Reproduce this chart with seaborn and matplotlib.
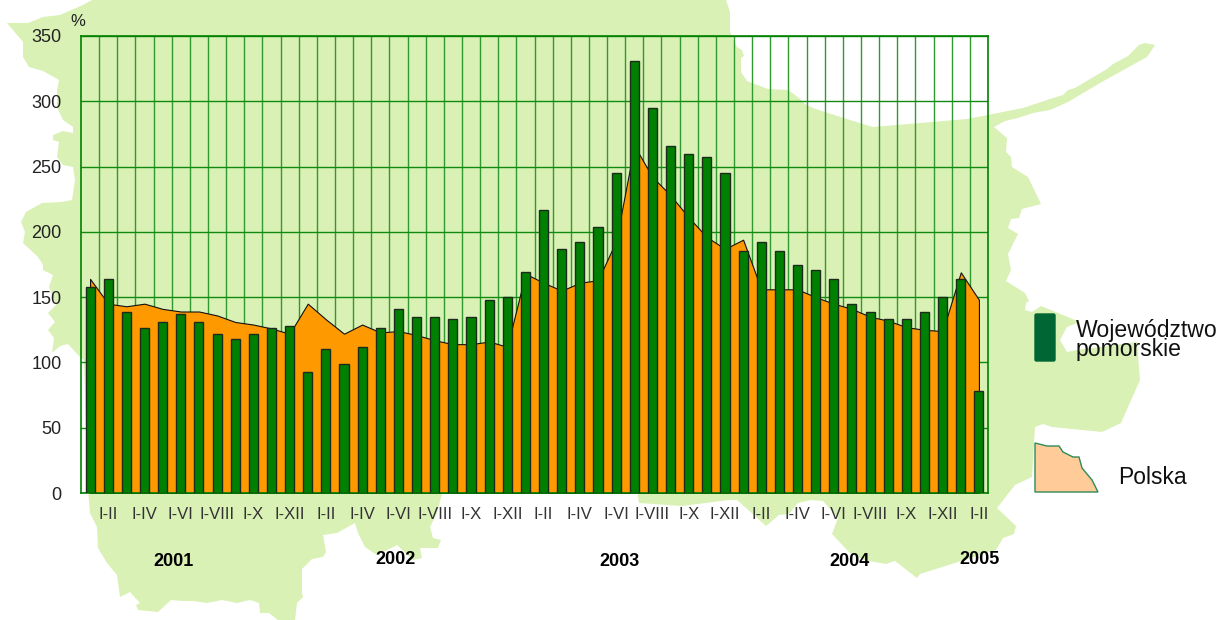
import numpy as np
import matplotlib
matplotlib.use("Agg")
import matplotlib.pyplot as plt
from matplotlib.patches import Polygon, FancyBboxPatch
import seaborn as sns

# miesiace od I 2001 do II 2005
months = [f"{y}-{m:02d}" for y in range(2001, 2005) for m in range(1, 13)] + ["2005-01", "2005-02"]

pomorskie = [158, 164, 139, 126, 131, 137, 131, 122, 118, 122, 126, 128,
             93, 110, 99, 112, 126, 141, 135, 135, 133, 135, 148, 150,
             169, 217, 187, 192, 204, 245, 331, 295, 266, 260, 257, 245,
             185, 192, 185, 175, 171, 164, 145, 139, 133, 133, 139, 150,
             164, 78]

polska = [164, 145, 143, 145, 141, 139, 139, 136, 131, 129, 126, 122,
          145, 133, 122, 129, 123, 124, 121, 117, 114, 114, 116, 112,
          168, 161, 155, 161, 163, 193, 266, 242, 228, 211, 196, 187,
          194, 156, 156, 156, 150, 145, 141, 135, 132, 127, 125, 124,
          169, 148]

tick_labels = ["I-II", "I-IV", "I-VI", "I-VIII", "I-X", "I-XII"] * 4 + ["I-II"]
tick_pos = list(range(1, 49, 2)) + [49]
y_ticks = [0, 50, 100, 150, 200, 250, 300, 350]
years = ["2001", "2002", "2003", "2004", "2005"]
year_x = [173, 396, 619, 849, 980]
year_y = [561, 560, 561, 561, 560]

# kontur wojewodztwa w tle (piksele obrazka)
map_outline = [(92, 0), (726, 0), (730, 12), (730, 32), (737, 47), (742, 50), (744, 56), (741, 58),
               (741, 72), (747, 81), (768, 89), (788, 90), (799, 98), (805, 104), (813, 108), (828, 113),
               (850, 120), (873, 127), (967, 119), (1023, 108), (1050, 99), (1063, 95), (1068, 90),
               (1075, 88), (1107, 69), (1113, 64), (1128, 56), (1139, 45), (1145, 43), (1155, 45),
               (1147, 57), (1127, 68), (1100, 83), (1068, 102), (1050, 110), (1033, 113), (1018, 118),
               (1005, 121), (994, 127), (1007, 138), (1006, 152), (1011, 157), (1012, 167), (1028, 177),
               (1041, 204), (1022, 209), (1019, 218), (1011, 219), (1008, 228), (1018, 234), (1008, 254),
               (1011, 270), (1006, 281), (1025, 293), (1029, 301), (1026, 303), (1025, 310), (1032, 312),
               (1041, 306), (1080, 322), (1067, 327), (1060, 340), (1067, 352), (1077, 350), (1137, 342),
               (1140, 380), (1121, 423), (1102, 432), (1052, 427), (1043, 424), (1035, 427), (1032, 477),
               (1015, 485), (997, 508), (1016, 526), (1014, 534), (1003, 538), (996, 550), (920, 574),
               (917, 578), (895, 561), (886, 564), (864, 560), (850, 553), (832, 534), (838, 518),
               (823, 501), (811, 500), (798, 503), (789, 514), (779, 515), (766, 526), (737, 500),
               (729, 500), (682, 506), (639, 503), (637, 490), (443, 490), (437, 513), (430, 527),
               (433, 538), (441, 540), (438, 548), (420, 548), (422, 558), (413, 560), (397, 545),
               (377, 555), (365, 547), (358, 533), (355, 523), (337, 533), (323, 535), (326, 552),
               (323, 557), (312, 559), (302, 569), (302, 593), (303, 597), (297, 603), (295, 620),
               (278, 620), (269, 613), (260, 613), (259, 603), (250, 600), (237, 603), (222, 600),
               (207, 603), (193, 601), (182, 601), (171, 600), (158, 612), (138, 610), (136, 605),
               (140, 603), (130, 592), (120, 597), (117, 575), (107, 563), (98, 548), (97, 527),
               (90, 513), (88, 490), (84, 360), (80, 357), (68, 344), (60, 346), (52, 353), (54, 338),
               (48, 330), (55, 322), (48, 313), (56, 305), (49, 287), (53, 275), (43, 270), (43, 265),
               (38, 257), (23, 243), (25, 232), (21, 222), (26, 212), (42, 203), (62, 202), (72, 200),
               (75, 180), (73, 167), (63, 165), (57, 157), (59, 142), (53, 140), (53, 135), (63, 131),
               (73, 133), (73, 127), (63, 120), (57, 107), (57, 90), (59, 80), (43, 71), (29, 67),
               (23, 57), (23, 42), (7, 23), (28, 23), (43, 17), (60, 15), (83, 5)]

polska_icon = [(1035, 443), (1047, 446), (1059, 446), (1063, 452), (1073, 457), (1079, 457),
               (1082, 468), (1092, 480), (1098, 492), (1035, 492)]

sns.set_theme(style="white")
plt.rcParams["font.family"] = ["Liberation Sans", "DejaVu Sans"]

W, H = 1218, 620
fig = plt.figure(figsize=(W / 100, H / 100), dpi=100)

# tlo w pikselach: mapa i legenda
bg = fig.add_axes([0, 0, 1, 1], zorder=0)
bg.set_xlim(0, W)
bg.set_ylim(H, 0)
bg.axis("off")
bg.add_patch(Polygon(map_outline, closed=True, facecolor="#D9F1B5", edgecolor="none"))
bg.add_patch(FancyBboxPatch((1035, 314), 20, 47, boxstyle="round,pad=0,rounding_size=1.5",
                            facecolor="#006633", edgecolor="#006633", linewidth=1))
bg.add_patch(Polygon(polska_icon, closed=True, facecolor="#FFCC99", edgecolor="#2E8B57", linewidth=1))
bg.text(1076, 340, "Województwo\npomorskie", fontsize=16.6, color="#111111", ha="left", va="center", linespacing=0.82)
bg.text(1118, 477, "Polska", fontsize=16.5, color="#111111", ha="left", va="center")
bg.text(70, 22, "%", fontsize=12, color="#222222", ha="left", va="center")
for yr, xp, yp in zip(years, year_x, year_y):
    bg.text(xp, yp, yr, fontsize=13, fontweight="bold", color="black", ha="center", va="center")

# wlasciwy wykres
ax = fig.add_axes([81 / W, 1 - 493 / H, 907 / W, 457 / H], zorder=1)
ax.patch.set_alpha(0)

x = np.arange(len(months))
ax.fill_between(x, polska, 0, facecolor="#FF9900", edgecolor="#111111", linewidth=0.8, zorder=2)
sns.barplot(x=months, y=pomorskie, color="#008000", saturation=1, width=0.5,
            edgecolor="#1c2b1c", linewidth=1, zorder=3, ax=ax)

ax.set_xlim(-0.5, len(months) - 0.5)
ax.set_ylim(0, 350)
ax.set_yticks(y_ticks)
ax.set_xticks(tick_pos)
ax.set_xticklabels(tick_labels)
ax.set_xticks(x[:-1] + 0.5, minor=True)
ax.set_xlabel("")
ax.set_ylabel("")

ax.set_axisbelow(True)
ax.grid(False)
ax.grid(True, axis="y", which="major", color="#118a11", linewidth=1, zorder=1)
ax.grid(True, axis="x", which="minor", color="#2f9a2f", linewidth=1, zorder=1)
ax.tick_params(axis="x", which="both", length=0)
ax.tick_params(axis="x", which="major", pad=10, labelsize=12, labelcolor="#333333")
ax.tick_params(axis="y", length=0, pad=14, labelsize=13, labelcolor="#222222")
for s in ax.spines.values():
    s.set_visible(True)
    s.set_color("#008000")
    s.set_linewidth(1.2)

fig.savefig("out.png", dpi=100)
plt.close(fig)
